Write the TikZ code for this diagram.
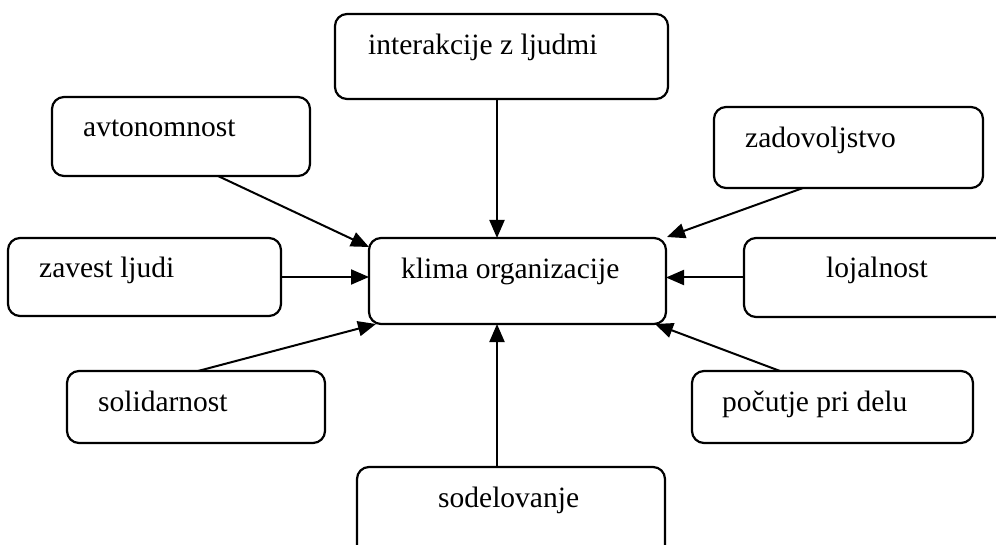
\documentclass[tikz,border=0pt]{standalone}
\usepackage{fontspec}
\setmainfont{Liberation Serif}
\usetikzlibrary{arrows.meta,calc}

\tikzset{
  box/.style={draw, line width=2.2pt, rounded corners=12pt, inner sep=0pt, outer sep=0pt, anchor=north west},
  lbl/.style={inner sep=0pt, anchor=base west, font=\fontsize{29.5}{34}\selectfont},
  link/.style={line width=2pt, -{Triangle[length=18pt,width=15pt]}}
}

\begin{document}
\begin{tikzpicture}[x=1pt, y=-1pt]
  \useasboundingbox (0,0) rectangle (996,545);
  \fill[white] (0,0) rectangle (996,545);
  \clip (0,0) rectangle (996,545);

  % boxes
  \node[box, minimum width=333pt, minimum height=85pt] (ik) at (335,14) {};
  \node[box, minimum width=258pt, minimum height=79pt] (av) at (52,97) {};
  \node[box, minimum width=269pt, minimum height=81pt] (zd) at (714,107) {};
  \node[box, minimum width=273pt, minimum height=78pt] (zv) at (8,238) {};
  \node[box, minimum width=297pt, minimum height=86pt] (kl) at (369,238) {};
  \node[box, minimum width=290pt, minimum height=79pt] (lj) at (744,238) {};
  \node[box, minimum width=258pt, minimum height=72pt] (so) at (67,371) {};
  \node[box, minimum width=281pt, minimum height=72pt] (po) at (692,371) {};
  \node[box, minimum width=308pt, minimum height=100pt] (sd) at (357,467) {};

  % labels
  \node[lbl] (ikt) at (368,55) {interakcije z ljudmi};
  \node[lbl] (avt) at (83,137) {avtonomnost};
  \node[lbl] (zdt) at (745,148) {zadovoljstvo};
  \node[lbl] (zvt) at (39,278) {zavest ljudi};
  \node[lbl] (klt) at (401,279) {klima organizacije};
  \node[lbl] (ljt) at (826,278) {lojalnost};
  \node[lbl] (sot) at (98,411) {solidarnost};
  \node[lbl] (pot) at (722,411) {počutje pri delu};
  \node[lbl] (sdt) at (438,507) {sodelovanje};

  % connectors into the central box
  \draw[link] ($(ik.south west)+(162,0)$) -- ($(kl.north west)+(128,0)$);
  \draw[link] ($(av.south west)+(166,0)$) -- ($(kl.north west)+(0,9)$);
  \draw[link] (zv.east) -- (zv.east -| kl.west);
  \draw[link] ($(so.north west)+(131,0)$) -- ($(kl.south west)+(7,0)$);
  \draw[link] ($(zd.south west)+(89,0)$) -- ($(kl.north east)+(1,-1)$);
  \draw[link] (lj.west) -- (lj.west -| kl.east);
  \draw[link] ($(po.north west)+(88,0)$) -- ($(kl.south east)+(-11,0)$);
  \draw[link] ($(sd.north west)+(140,0)$) -- ($(kl.south west)+(128,0)$);
\end{tikzpicture}
\end{document}
